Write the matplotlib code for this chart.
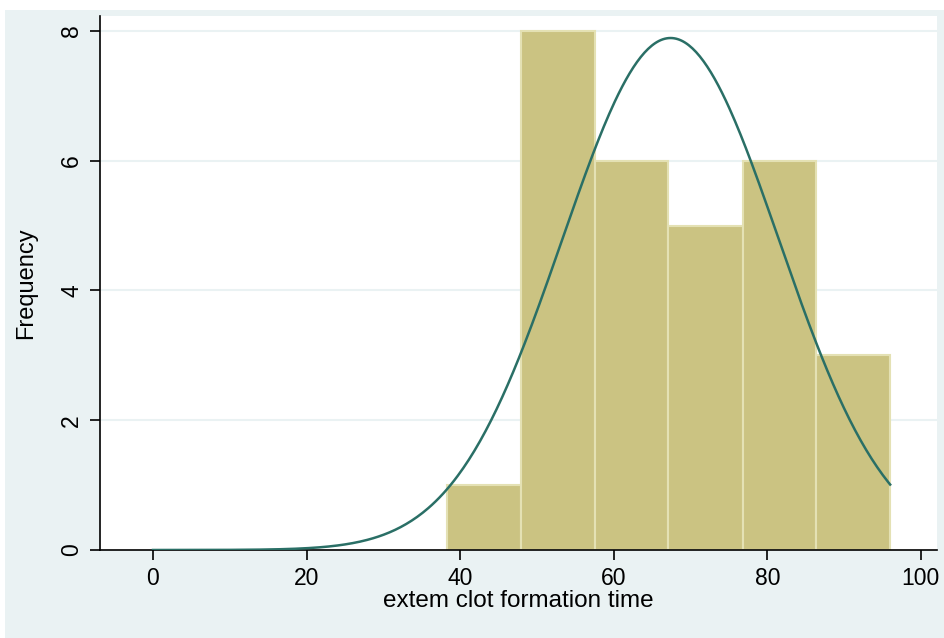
import numpy as np
import matplotlib.pyplot as plt
from matplotlib.patches import Rectangle

# histogram bins
bin_edges = [38.3, 47.9, 57.5, 67.1, 76.8, 86.4, 96.0]
counts = [1, 8, 6, 5, 6, 3]
# normal density overlay (mean / sd of the sample)
mu, sd = 67.4, 14.1
curve_from, curve_to = 0, 96

x_ticks = [0, 20, 40, 60, 80, 100]
y_ticks = [0, 2, 4, 6, 8]

plt.rcParams['font.family'] = ['Liberation Sans', 'DejaVu Sans']

fig = plt.figure(figsize=(9.44, 6.38), dpi=100, facecolor='white')
# light outer region like Stata's graph region
fig.patches.append(Rectangle((5 / 944, 0), 1, 1 - 10 / 638, transform=fig.transFigure,
                             facecolor='#eaf2f3', edgecolor='none', zorder=-10))

ax = fig.add_axes([100 / 944, (638 - 550) / 638, 837 / 944, 534 / 638])
ax.set_facecolor('white')

widths = np.diff(bin_edges)
ax.bar(bin_edges[:-1], counts, width=widths, align='edge', color='#cbc382',
       edgecolor='#e4e1b4', linewidth=1.5, zorder=2)

n = sum(counts)
bw = widths.mean()
xs = np.linspace(curve_from, curve_to, 400)
ys = n * bw / (sd * np.sqrt(2 * np.pi)) * np.exp(-0.5 * ((xs - mu) / sd) ** 2)
ax.plot(xs, ys, color='#2a6f66', lw=1.8, zorder=3)

ax.set_xlim(-6.9, 102.1)
ax.set_ylim(0, 8.23)
ax.set_xticks(x_ticks)
ax.set_yticks(y_ticks)
ax.set_yticklabels([str(v) for v in y_ticks], rotation=90, va='center')
for y in y_ticks[1:]:
    ax.axhline(y, color='#eaf2f3', lw=1.5, zorder=1)

for s in ['top', 'right']:
    ax.spines[s].set_visible(False)
for s in ['left', 'bottom']:
    ax.spines[s].set_linewidth(1.2)
ax.tick_params(axis='both', length=7, width=1.2, labelsize=16.5, pad=5)

ax.set_xlabel('extem clot formation time', fontsize=17.5, labelpad=0)
ax.set_ylabel('Frequency', fontsize=17, labelpad=17)

fig.savefig('out.png', dpi=100, facecolor=fig.get_facecolor())
